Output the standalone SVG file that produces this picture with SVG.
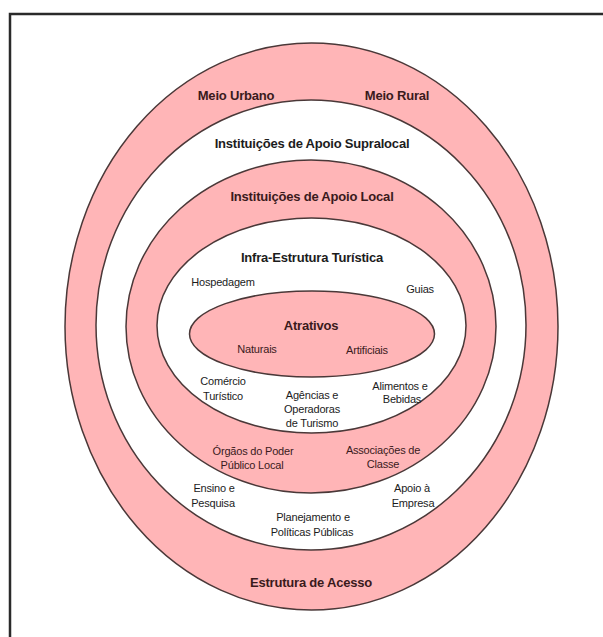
<svg xmlns="http://www.w3.org/2000/svg" width="603" height="637" viewBox="0 0 603 637">
<style>
  .ring { stroke: #4a3838; stroke-width: 1.5; }
  .pink { fill: #ffb5b7; }
  .white { fill: #ffffff; }
  text { font-family: "Liberation Sans", Arial, sans-serif; text-anchor: middle; }
  .title { font-size: 13px; font-weight: bold; letter-spacing: -0.2px; }
  .label { font-size: 11px; letter-spacing: -0.2px; }
  .onpink { fill: #3a1a1c; }
  .onwhite { fill: #1c1c1c; }
</style>
<rect x="0" y="0" width="603" height="637" fill="#ffffff"/>
<path d="M 10 637 L 10 14 L 603 14" fill="none" stroke="#2a2a2a" stroke-width="2.5"/>
<g id="connectors"/>
<g id="estrutura-acesso">
  <ellipse class="ring pink" cx="311.5" cy="326.5" rx="246.5" ry="283.5"/>
  <text class="title onpink" x="236" y="100">Meio Urbano</text>
  <text class="title onpink" x="397" y="100">Meio Rural</text>
  <text class="title onpink" x="311" y="587">Estrutura de Acesso</text>
</g>
<g id="apoio-supralocal">
  <ellipse class="ring white" cx="311" cy="325" rx="215" ry="225"/>
  <text class="title onwhite" x="312" y="148">Instituições de Apoio Supralocal</text>
  <text class="label onwhite" x="214" y="492">Ensino e</text>
  <text class="label onwhite" x="213" y="507">Pesquisa</text>
  <text class="label onwhite" x="412" y="492">Apoio à</text>
  <text class="label onwhite" x="413" y="507">Empresa</text>
  <text class="label onwhite" x="313" y="521">Planejamento e</text>
  <text class="label onwhite" x="312" y="536">Políticas Públicas</text>
</g>
<g id="apoio-local">
  <ellipse class="ring pink" cx="311" cy="326.5" rx="185" ry="166.5"/>
  <text class="title onpink" x="312" y="201">Instituições de Apoio Local</text>
  <text class="label onpink" x="253" y="455">Órgãos do Poder</text>
  <text class="label onpink" x="252" y="469">Público Local</text>
  <text class="label onpink" x="383" y="454">Associações de</text>
  <text class="label onpink" x="383" y="468">Classe</text>
</g>
<g id="infra-estrutura">
  <ellipse class="ring white" cx="311.5" cy="325.5" rx="154.5" ry="107.5"/>
  <text class="title onwhite" x="312" y="262">Infra-Estrutura Turística</text>
  <text class="label onwhite" x="223" y="286">Hospedagem</text>
  <text class="label onwhite" x="420" y="293">Guias</text>
  <text class="label onwhite" x="223" y="385">Comércio</text>
  <text class="label onwhite" x="223" y="400">Turístico</text>
  <text class="label onwhite" x="312" y="399">Agências e</text>
  <text class="label onwhite" x="312" y="413">Operadoras</text>
  <text class="label onwhite" x="312" y="427">de Turismo</text>
  <text class="label onwhite" x="400" y="390">Alimentos e</text>
  <text class="label onwhite" x="402" y="403">Bebidas</text>
</g>
<g id="atrativos">
  <ellipse class="ring pink" cx="312" cy="334" rx="122.5" ry="43"/>
  <text class="title onpink" x="311" y="330">Atrativos</text>
  <text class="label onpink" x="257" y="353">Naturais</text>
  <text class="label onpink" x="367" y="354">Artificiais</text>
</g>
</svg>
